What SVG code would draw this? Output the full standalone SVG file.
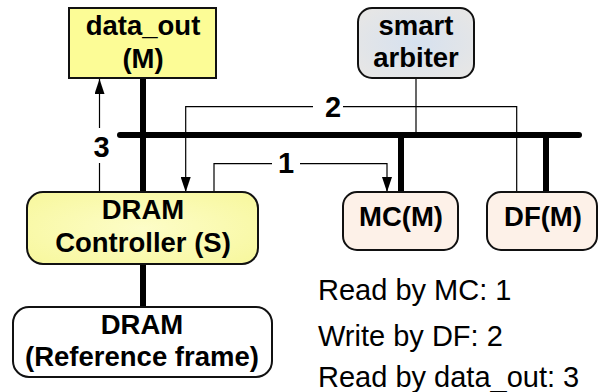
<svg xmlns="http://www.w3.org/2000/svg" width="604" height="392" viewBox="0 0 604 392">
<defs>
<radialGradient id="arbGrad" cx="0.5" cy="0.5" r="0.6">
<stop offset="0" stop-color="#d6e1ef"/>
<stop offset="1" stop-color="#e6e6e6"/>
</radialGradient>
<radialGradient id="ctrlGrad" cx="0.5" cy="0.5" r="0.7">
<stop offset="0" stop-color="#fdfdc8"/>
<stop offset="1" stop-color="#f7f79c"/>
</radialGradient>
<marker id="ah" viewBox="0 0 15 10" refX="15" refY="5" markerWidth="15" markerHeight="10" markerUnits="userSpaceOnUse" orient="auto">
<path d="M0,0 L15,5 L0,10 Z" fill="#000"/>
</marker>
<style>
.box{stroke:#111;stroke-width:2}
.bt{font-family:"Liberation Sans",Arial,sans-serif;font-weight:bold;font-size:27.5px;text-anchor:middle;fill:#000}
.num{font-family:"Liberation Sans",Arial,sans-serif;font-weight:bold;font-size:29px;text-anchor:middle;fill:#000}
.leg{font-family:"Liberation Sans",Arial,sans-serif;font-size:29px;fill:#000}
.bus{stroke:#000;stroke-width:6;stroke-linecap:round;fill:none}
.thin{stroke:#000;stroke-width:1.2;fill:none}
</style>
</defs>
<g id="connectors">
<line class="bus" x1="120" y1="135" x2="579" y2="135"/>
<line class="bus" x1="143" y1="79" x2="143" y2="192"/>
<line class="bus" x1="401" y1="135" x2="401" y2="192"/>
<line class="bus" x1="546" y1="135" x2="546" y2="192"/>
<line class="bus" x1="143" y1="264" x2="143" y2="308"/>
<line class="thin" x1="416" y1="78" x2="416" y2="135"/>
<line class="thin" x1="99.5" y1="192" x2="99.5" y2="163"/>
<line class="thin" x1="99.5" y1="128" x2="99.5" y2="79" marker-end="url(#ah)"/>
<text class="num" x="101.5" y="157">3</text>
<polyline class="thin" points="516.7,192 516.7,106.7 343,106.7"/>
<polyline class="thin" points="313,106.7 185.7,106.7 185.7,192" marker-end="url(#ah)"/>
<text class="num" x="333" y="117">2</text>
<polyline class="thin" points="214,192 214,163.7 272,163.7"/>
<polyline class="thin" points="300,163.7 387,163.7 387,192" marker-end="url(#ah)"/>
<text class="num" x="286" y="173">1</text>
</g>
<g id="data_out">
<rect class="box" x="69" y="8" width="147" height="70" fill="#fcfc96"/>
<text class="bt" x="143" y="35">data_out</text>
<text class="bt" x="143" y="68">(M)</text>
</g>
<g id="smart_arbiter">
<rect class="box" x="358" y="8" width="116" height="70" rx="14" fill="url(#arbGrad)"/>
<text class="bt" x="416" y="35">smart</text>
<text class="bt" x="416" y="67">arbiter</text>
</g>
<g id="dram_controller">
<rect class="box" x="27" y="192" width="231" height="72" rx="16" fill="url(#ctrlGrad)"/>
<text class="bt" x="143" y="219">DRAM</text>
<text class="bt" x="143" y="252">Controller (S)</text>
</g>
<g id="mc">
<rect class="box" x="343" y="192" width="115" height="58" rx="14" fill="#fdf1e8"/>
<text class="bt" x="401" y="226">MC(M)</text>
</g>
<g id="df">
<rect class="box" x="487" y="192" width="110" height="58" rx="14" fill="#fdf1e8"/>
<text class="bt" x="543" y="226">DF(M)</text>
</g>
<g id="dram">
<rect class="box" x="13" y="307" width="259" height="70" rx="16" fill="#fff"/>
<text class="bt" x="142" y="334">DRAM</text>
<text class="bt" x="142" y="366">(Reference frame)</text>
</g>
<g id="legend">
<text class="leg" x="318" y="300">Read by MC: 1</text>
<text class="leg" x="318" y="346">Write by DF: 2</text>
<text class="leg" x="318" y="387">Read by data_out: 3</text>
</g>
</svg>
